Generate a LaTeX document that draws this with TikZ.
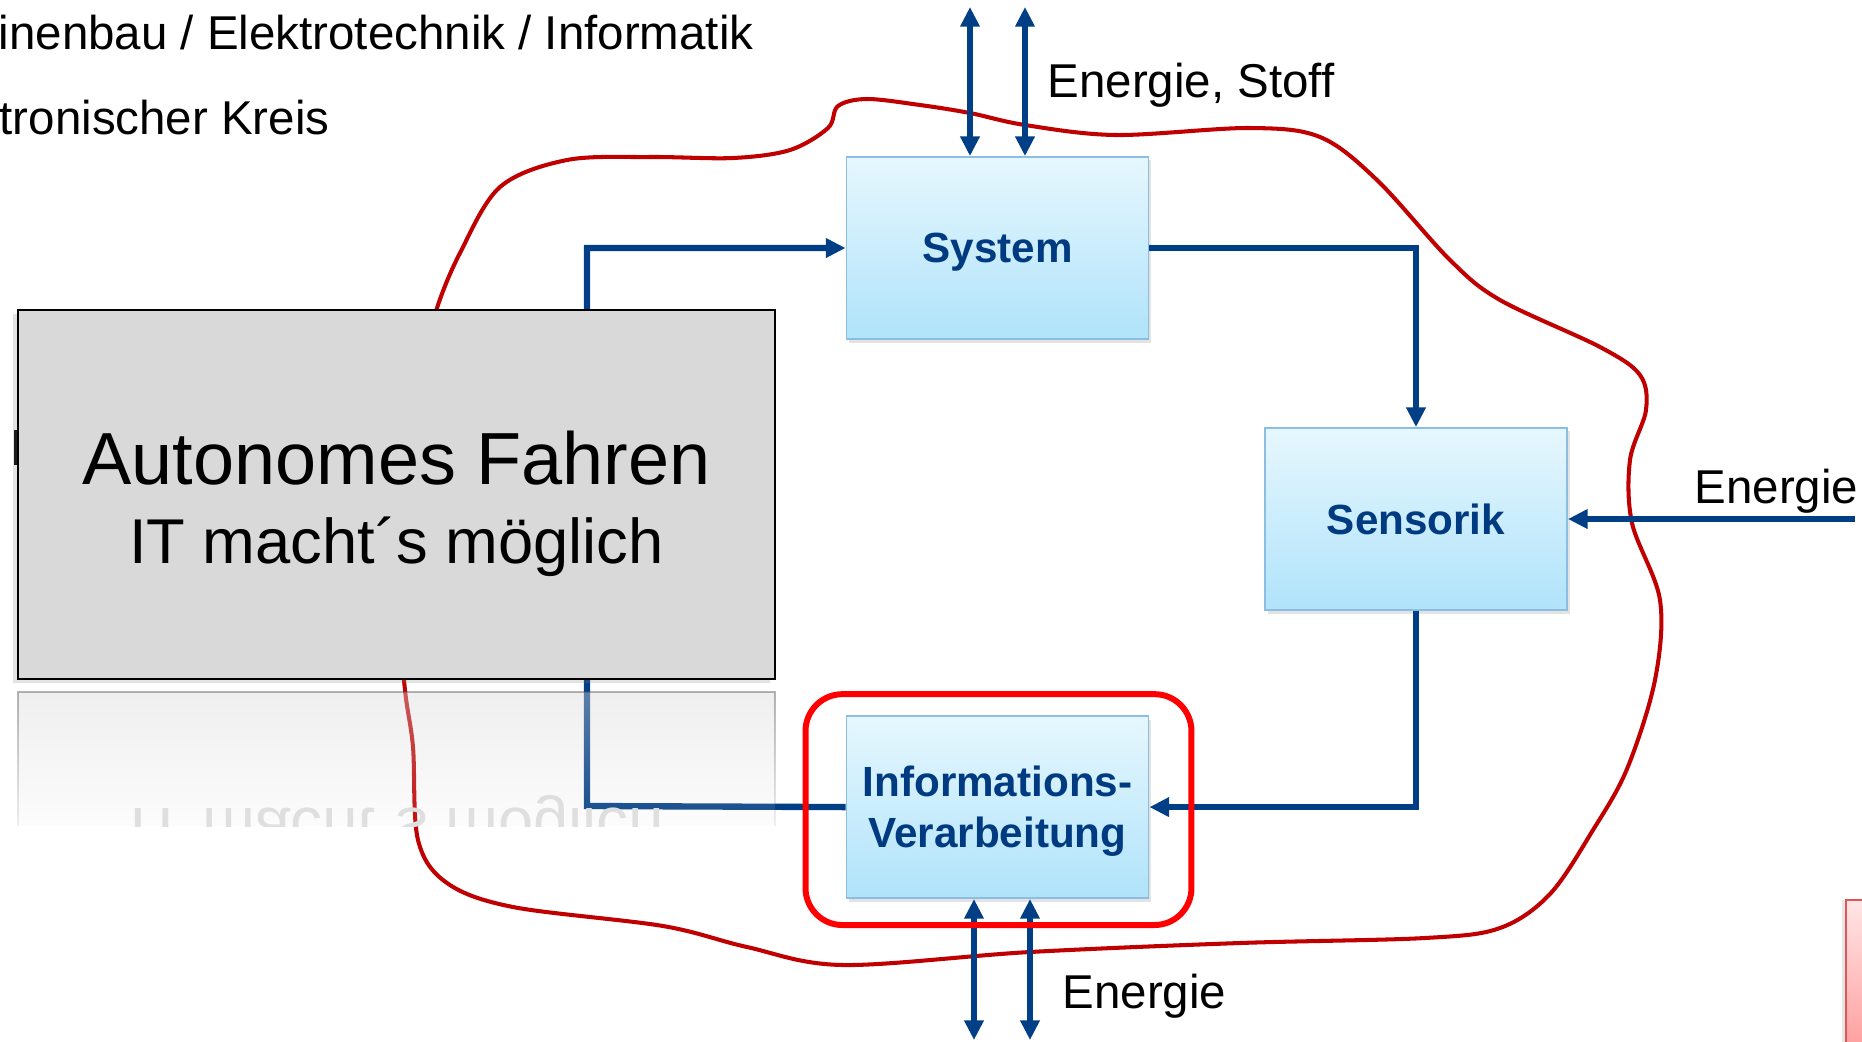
\documentclass[tikz,border=0pt]{standalone}
\usepackage{fontspec}
\setmainfont{Liberation Sans}
\usepackage{graphicx}
\usetikzlibrary{arrows.meta, positioning, calc, shadows, fadings}
\definecolor{flowblue}{RGB}{0,62,134}
\definecolor{boxtext}{RGB}{0,58,128}
\definecolor{boxtop}{RGB}{230,247,254}
\definecolor{boxbottom}{RGB}{176,227,250}
\definecolor{boxline}{RGB}{140,190,228}
\definecolor{curvered}{RGB}{192,0,0}
\definecolor{framered}{RGB}{255,0,0}
\definecolor{panelgray}{RGB}{217,217,217}
\definecolor{tabline}{RGB}{225,85,85}
\tikzfading[name=mirrorfade, top color=transparent!58, bottom color=transparent!92]
\tikzstyle{block}  = [rectangle, minimum width=3.02cm, minimum height=1.82cm, text width=2.9cm,
                      text depth=0pt, inner xsep=0pt, align=center, draw=boxline, line width=0.5pt,
                      top color=boxtop, bottom color=boxbottom,
                      text=boxtext, font=\fontsize{12}{14.6}\selectfont\bfseries,
                      drop shadow={shadow xshift=0.8pt, shadow yshift=-1pt, opacity=0.22}]
\tikzstyle{panel}  = [rectangle, minimum width=7.57cm, minimum height=3.69cm, draw=black, line width=0.7pt,
                      fill=panelgray, drop shadow={shadow xshift=-1.5pt, shadow yshift=-1.2pt, opacity=0.22}]
\tikzstyle{flow}   = [line width=1.8pt, draw=flowblue, >={Triangle[length=5.6pt, width=5.3pt]}]
\tikzstyle{note}   = [inner sep=0pt, font=\fontsize{13.5}{16}\selectfont]
\tikzstyle{curve}  = [line width=1.15pt, draw=curvered]

\begin{document}
\begin{tikzpicture}[x=0.01cm, y=-0.01cm]
  \useasboundingbox (0,0) rectangle (1862,1041);
  \clip (0,0) rectangle (1862,1041);

  % heading lines, cut at the left edge
  \node (fach)  [note, anchor=base west] at (-2,49)  {inenbau / Elektrotechnik / Informatik};
  \node (kreis) [note, anchor=base west] at (-1,134) {tronischer Kreis};

  % system border
  \draw[curve] plot[smooth cycle, tension=0.55] coordinates {
    (437,308) (460,253) (500,187) (567,160) (650,157) (733,158) (790,150) (828,128)
    (838,106) (867,99) (920,105) (970,113) (1025,125) (1116,135) (1249,128) (1320,137)
    (1377,180) (1450,260) (1500,300) (1600,347) (1640,375) (1646,410) (1630,460)
    (1632,523) (1660,600) (1655,680) (1627,769) (1593,830) (1550,894) (1500,928)
    (1425,938) (1240,943) (1030,952) (843,965) (747,947) (663,926) (513,907) (447,883)
    (418,840) (413,747) (405,690) (398,600) (405,480) (425,360)};

  % blocks
  \node (system)   [block] at (997.5,248) {System};
  \node (info)     [block, text depth=14.7pt, below=3.75cm of system] {Informations-\\Verarbeitung};
  \node (sensorik) [block] at (1416,519) {Sensorik};

  % signal loop
  \coordinate (ret) at (587,806);
  \draw[flow, ->] (system.east) -| (sensorik.north);
  \draw[flow, ->] (sensorik.south) |- (info.east);
  \draw[flow, ->] (info.west) -- (ret) |- (system.west);

  % energy and material flows
  \coordinate (st1) at (970,7);
  \coordinate (st2) at (1025,7);
  \coordinate (ein) at (1855,519);
  \coordinate (eb1) at (974,1040);
  \coordinate (eb2) at (1030,1040);
  \draw[flow, <->] (st1) -- (st1 |- system.north);
  \draw[flow, <->] (st2) -- (st2 |- system.north);
  \draw[flow, ->]  (ein) -- (sensorik.east);
  \draw[flow, <->] (eb1) -- (eb1 |- info.south);
  \draw[flow, <->] (eb2) -- (eb2 |- info.south);
  \node (stoff)  [note, anchor=base west] at (1047,97)   {Energie, Stoff};
  \node (energr) [note, anchor=base west] at (1694,503)  {Energie};
  \node (energb) [note, anchor=base west] at (1062,1008) {Energie};

  % highlight round the processing block
  \draw[framered, line width=1.7pt, rounded corners=10.5pt]
    ($(info.north west)+(-40,-21)$) rectangle ($(info.south east)+(42,26)$);

  % overlay panel with its mirror image
  \fill (14,430) rectangle (19,465);
  \node (panel) [panel] at (396.5,494.5) {};
  \node (titel)  [inner sep=0pt, anchor=base, font=\fontsize{21}{25}\selectfont] at (396.5,484) {Autonomes Fahren};
  \node (motto)  [inner sep=0pt, anchor=base, font=\fontsize{18}{22}\selectfont] at (396.5,563) {IT macht´s möglich};
  \begin{scope}
    \clip (18,692) rectangle (775,826);
    \node (mirror) [inner sep=0pt, anchor=base, text=black!12, font=\fontsize{18}{22}\selectfont]
      at (396.5,808) {\scalebox{1}[-1]{IT macht´s möglich}};
  \end{scope}
  \fill[panelgray, path fading=mirrorfade] (18,692) rectangle (775,826);
  \draw[black!70, line width=0.6pt, path fading=mirrorfade] (18,826) -- (18,692) -- (775,692) -- (775,826);

  % next slide element at the corner
  \draw[line width=0.7pt, draw=tabline, top color=red!10, bottom color=red!42,
        drop shadow={shadow xshift=-1pt, shadow yshift=0pt, opacity=0.2}] (1846,900) rectangle (1890,1070);
\end{tikzpicture}
\end{document}
